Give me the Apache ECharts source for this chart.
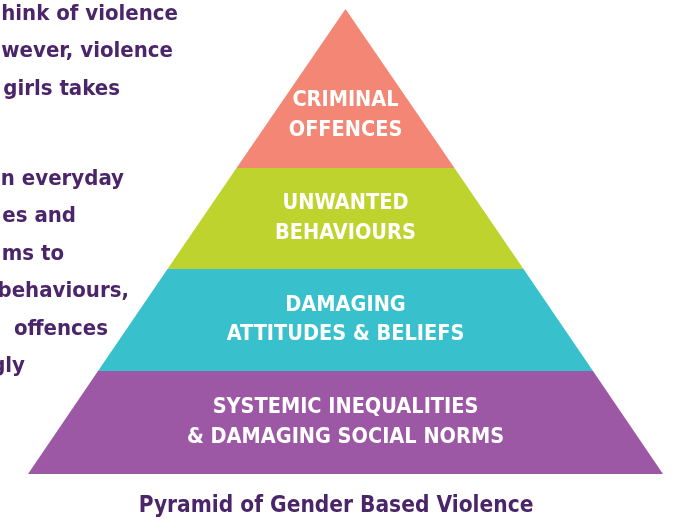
<!DOCTYPE html>
<html>
<head>
    <meta charset="utf-8">
    <title>Pyramid of Gender Based Violence</title>
    <script src="https://cdn.jsdelivr.net/npm/echarts@6/dist/echarts.min.js"></script>
    <style>
        html, body { margin: 0; padding: 0; background: #fff; }
        #pyramid { width: 681px; height: 519px; }
    </style>
</head>
<body>
<div id="pyramid"></div>
<script type="text/javascript">
    // layers from bottom to top
    var layerNames = [
        'SYSTEMIC INEQUALITIES\n& DAMAGING SOCIAL NORMS',
        'DAMAGING\nATTITUDES & BELIEFS',
        'UNWANTED\nBEHAVIOURS',
        'CRIMINAL\nOFFENCES'
    ];
    // base width of each layer
    var layerValues = [635, 495, 356, 218];
    var layerColors = ['#9c58a4', '#38c0cd', '#bfd32f', '#f38674'];
    var layerHeights = [103, 102, 101, 159];

    // paragraph text on the left (cut off by the picture edge)
    var sideParagraph1 = ['hink of violence', 'wever, violence', 'girls takes'];
    var sideParagraph2 = ['n everyday', 'es and', 'ms to', 'behaviours,', 'offences', 'gly'];
    var sideRight1 = [178, 173, 120];
    var sideRight2 = [124, 76, 64, 129, 108, 25];

    var titleText = 'Pyramid of Gender Based Violence';

    var FONT = '"DejaVu Sans Condensed", "DejaVu Sans", sans-serif';
    var INK = '#4b2569';

    var myChart = echarts.init(document.getElementById('pyramid'));

    var graphics = [];
    function addParagraph(lines, rights, startY) {
        for (var i = 0; i < lines.length; i++) {
            graphics.push({
                type: 'text',
                x: rights[i],
                y: startY + i * 37.5,
                style: {
                    text: lines[i],
                    fill: INK,
                    font: 'bold 22px ' + FONT,
                    align: 'right',
                    verticalAlign: 'middle'
                }
            });
        }
    }
    addParagraph(sideParagraph1, sideRight1, 14);
    addParagraph(sideParagraph2, sideRight2, 179);

    var data = [];
    for (var k = 0; k < layerNames.length; k++) {
        data.push({
            name: layerNames[k],
            value: layerValues[k],
            itemStyle: { color: layerColors[k], height: layerHeights[k] }
        });
    }

    myChart.setOption({
        animation: false,
        title: {
            text: titleText,
            left: 331,
            top: 490,
            textAlign: 'center',
            textStyle: {
                color: INK,
                fontFamily: FONT,
                fontWeight: 'bold',
                fontSize: 22.5
            }
        },
        graphic: graphics,
        series: [{
            type: 'funnel',
            sort: 'ascending',
            left: 28,
            top: 9,
            width: 635,
            height: 465,
            min: 0,
            max: 635,
            minSize: '0%',
            maxSize: '100%',
            gap: 0,
            itemStyle: { borderWidth: 0 },
            label: {
                show: true,
                position: 'inside',
                color: '#fff',
                fontFamily: FONT,
                fontWeight: 'bold',
                fontSize: 21.5,
                lineHeight: 29.5,
                align: 'center'
            },
            // the top triangle's label sits lower than its centre point
            labelLayout: function (params) {
                return { dy: params.dataIndex === layerNames.length - 1 ? 27 : 0 };
            },
            labelLine: { show: false },
            emphasis: { disabled: true },
            data: data
        }]
    });
</script>
</body>
</html>
